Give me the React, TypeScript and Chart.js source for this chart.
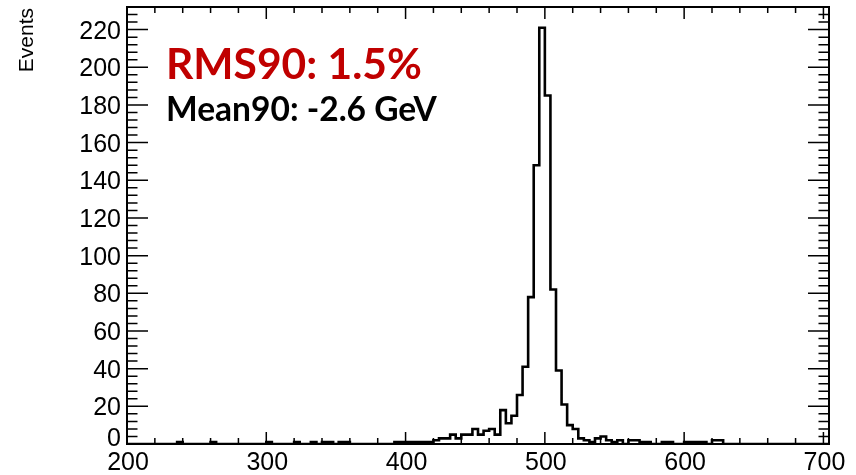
import { useEffect, useRef } from "react";
import { Chart, registerables } from "chart.js";

Chart.register(...registerables);

// ---- data ----
const xMin = 200;
const xMax = 704;
const binWidth = 4;
const binCounts = [
  0, 0, 0, 0, 0, 0, 0, 0, 0, 1,
  0, 0, 0, 0, 0, 1, 0, 0, 0, 0,
  0, 0, 0, 0, 0, 1, 0, 0, 0, 0,
  1, 0, 0, 1, 0, 1, 1, 0, 1, 1,
  0, 0, 0, 0, 0, 0, 0, 0, 1, 1,
  1, 1, 1, 1, 1, 2, 3, 3, 5, 3,
  5, 5, 8, 5, 7, 8, 5, 18, 11, 15,
  26, 41, 78, 148, 221, 185, 82, 39, 21, 10,
  8, 3, 2, 1, 3, 4, 2, 1, 2, 0,
  2, 2, 1, 1, 0, 0, 1, 1, 0, 0,
  1, 1, 1, 1, 0, 2, 2, 0, 0, 0,
  0, 0, 0, 0, 0, 0, 0, 0, 0, 0,
  0, 0, 0, 0, 0, 0,
];
const yMax = 232;
const xTickValues = [200, 300, 400, 500, 600, 700];
const yTickValues = [0, 20, 40, 60, 80, 100, 120, 140, 160, 180, 200, 220];
const xMajorStep = 100;
const xMinorStep = 20;
const yMajorStep = 20;
const yMinorStep = 4;
const yTitle = "Events";
const rmsText = "RMS90: 1.5%";
const meanText = "Mean90: -2.6 GeV";

const FONT = "'Liberation Sans', Arial, sans-serif";

function fitFont(ctx: CanvasRenderingContext2D, text: string, family: string, target: number) {
  ctx.font = `bold 40px ${family}`;
  const w = ctx.measureText(text).width;
  return (40 * target) / w;
}

const rootPlugin = {
  id: "rootStyle",
  afterDraw(chart: any) {
    const ctx: CanvasRenderingContext2D = chart.ctx;
    const xs = chart.scales.x;
    const ys = chart.scales.y;
    const L = chart.chartArea.left;
    const R = chart.chartArea.right;
    const T = chart.chartArea.top;
    const B = chart.chartArea.bottom;
    ctx.save();
    // frame
    ctx.strokeStyle = "#000";
    ctx.lineWidth = 2;
    ctx.strokeRect(L, T, R - L, B - T);
    // x ticks
    ctx.lineWidth = 1.5;
    ctx.beginPath();
    for (let v = xMin; v <= 700; v += xMinorStep) {
      const px = xs.getPixelForValue(v);
      const len = v % xMajorStep === 0 ? 12 : 6;
      ctx.moveTo(px, B);
      ctx.lineTo(px, B - len);
      ctx.moveTo(px, T);
      ctx.lineTo(px, T + len);
    }
    // y ticks
    for (let v = 0; v < yMax; v += yMinorStep) {
      const py = ys.getPixelForValue(v);
      const len = v % yMajorStep === 0 ? 21 : 10.5;
      ctx.moveTo(L, py);
      ctx.lineTo(L + len, py);
      ctx.moveTo(R, py);
      ctx.lineTo(R - len, py);
    }
    ctx.stroke();

    // tick labels
    ctx.fillStyle = "#000";
    ctx.font = `25px ${FONT}`;
    ctx.textBaseline = "alphabetic";
    ctx.textAlign = "center";
    for (const v of xTickValues) {
      ctx.fillText(String(v), xs.getPixelForValue(v) + 1, 470);
    }
    ctx.textAlign = "right";
    for (const v of yTickValues) {
      const py = ys.getPixelForValue(v);
      ctx.fillText(String(v), L - 6, v === 0 ? py + 2 : py + 9);
    }

    // y title
    ctx.font = `21px ${FONT}`;
    ctx.textAlign = "right";
    ctx.textBaseline = "alphabetic";
    ctx.translate(33, 8);
    ctx.rotate(-Math.PI / 2);
    ctx.fillText(yTitle, 0, 0);
    ctx.setTransform(1, 0, 0, 1, 0, 0);

    // annotations
    const fam = "Lato, 'Open Sans', sans-serif";
    const s1 = fitFont(ctx, rmsText, fam, 256);
    ctx.font = `bold ${s1}px ${fam}`;
    ctx.textAlign = "left";
    ctx.textBaseline = "alphabetic";
    ctx.fillStyle = "#c00000";
    ctx.fillText(rmsText, 166, 79);
    const s2 = fitFont(ctx, meanText, fam, 271);
    ctx.font = `bold ${s2}px ${fam}`;
    ctx.fillStyle = "#000";
    ctx.fillText(meanText, 166, 121);
    ctx.restore();
  },
};

export default function App() {
  const ref = useRef<HTMLCanvasElement | null>(null);
  useEffect(() => {
    document.body.style.margin = "0";
    const canvas = ref.current;
    if (!canvas) return;
    const pts = binCounts.map((c, i) => ({ x: xMin + i * binWidth, y: c }));
    pts.push({ x: xMin + binCounts.length * binWidth, y: binCounts[binCounts.length - 1] });
    const chart = new Chart(canvas, {
      type: "line",
      data: {
        datasets: [
          {
            data: pts,
            stepped: "before",
            borderColor: "#000",
            borderWidth: 2.6,
            pointRadius: 0,
            fill: false,
            tension: 0,
          },
        ],
      },
      options: {
        responsive: false,
        animation: false,
        devicePixelRatio: 1,
        layout: { padding: { left: 0, right: 27, top: 7, bottom: 0 } },
        plugins: { legend: { display: false }, tooltip: { enabled: false } },
        scales: {
          x: {
            type: "linear",
            min: xMin,
            max: xMax,
            grid: { display: false, drawTicks: false },
            border: { display: false },
            ticks: { display: false },
            afterBuildTicks: (s: any) => {
              s.ticks = xTickValues.map((v) => ({ value: v }));
            },
            afterFit: (s: any) => {
              s.height = 31;
            },
          },
          y: {
            type: "linear",
            min: 0,
            max: yMax,
            grid: { display: false, drawTicks: false },
            border: { display: false },
            ticks: { display: false },
            afterBuildTicks: (s: any) => {
              s.ticks = yTickValues.map((v) => ({ value: v }));
            },
            afterFit: (s: any) => {
              s.width = 127;
            },
          },
        },
      },
      plugins: [rootPlugin],
    });
    return () => chart.destroy();
  }, []);
  return (
    <div style={{ position: "fixed", left: 0, top: 0 }}>
      <canvas ref={ref} width={856} height={475} style={{ width: 856, height: 475, display: "block" }} />
    </div>
  );
}
